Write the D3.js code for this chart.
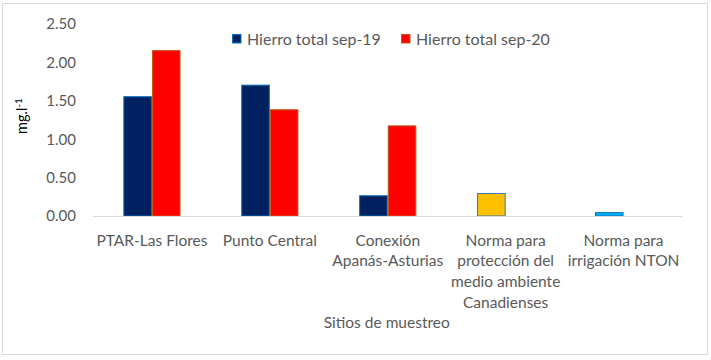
<!DOCTYPE html>
<html>
<head>
<meta charset="utf-8">
<script src="https://cdn.jsdelivr.net/npm/d3@7"></script>
<style>
  html, body { margin: 0; padding: 0; background: #fff; }
  text { font-family: Lato, "Liberation Sans", sans-serif; }
</style>
</head>
<body>
<div id="chart"></div>
<script>
// data
const categories = ['PTAR-Las Flores', 'Punto Central', 'Conexión Apanás-Asturias',
  'Norma para protección del medio ambiente Canadienses', 'Norma para irrigación NTON'];
const categoryLines = [
  ['PTAR-Las Flores'],
  ['Punto Central'],
  ['Conexión', 'Apanás-Asturias'],
  ['Norma para', 'protección del', 'medio ambiente', 'Canadienses'],
  ['Norma para', 'irrigación NTON']
];
const seriesNames = ['Hierro total sep-19', 'Hierro total sep-20'];
const sep19 = [1.56, 1.71, 0.27, 0.30, 0.05];
const sep20 = [2.16, 1.39, 1.18, null, null];
const yTicks = [0, 0.5, 1, 1.5, 2, 2.5];

// colours (first series has per-point colours for the two "Norma" bars)
const fill19 = ['#002060', '#002060', '#002060', '#FFC000', '#00B0F0'];
const stroke19 = ['#0070C0', '#0070C0', '#0070C0', '#2E75B6', '#0070C0'];
const fill20 = '#FF0000', stroke20 = '#C55A11';

const W = 711, H = 360;
const svg = d3.select('#chart').append('svg')
  .attr('width', W).attr('height', H);

// chart border
svg.append('rect')
  .attr('x', 2.5).attr('y', 3.5)
  .attr('width', 705).attr('height', 351)
  .attr('fill', '#fff').attr('stroke', '#d9d9d9');

const plot = { left: 93, right: 682.5, top: 24, bottom: 216 };

const x0 = d3.scaleBand()
  .domain(categories)
  .range([plot.left, plot.right])
  .paddingInner(0.515)
  .paddingOuter(0.2575);

const x1 = d3.scaleBand()
  .domain(seriesNames)
  .range([0, x0.bandwidth()]);

const y = d3.scaleLinear()
  .domain([0, 2.5])
  .range([plot.bottom, plot.top]);

// Y axis labels only
const yAxis = svg.append('g')
  .attr('transform', `translate(${plot.left - 17},0)`)
  .call(d3.axisLeft(y).tickValues(yTicks).tickFormat(d3.format('.2f')).tickSize(0).tickPadding(0));
yAxis.select('.domain').remove();
yAxis.selectAll('text')
  .attr('fill', '#595959')
  .style('font-size', '15px')
  .style('font-family', 'Lato, sans-serif');

// Y title
const yt = svg.append('text')
  .attr('transform', 'translate(27,116) rotate(-90)')
  .attr('text-anchor', 'middle')
  .attr('fill', '#000')
  .style('font-size', '14.5px');
yt.append('tspan').text('mg.l');
yt.append('tspan').attr('dy', -5).style('font-size', '10px').text('-1');

// bars
const rows = categories.map((c, i) => ({ cat: c, i, v19: sep19[i], v20: sep20[i] }));

svg.append('g').selectAll('rect')
  .data(rows.filter(d => d.v19 != null))
  .join('rect')
  .attr('x', d => x0(d.cat) + x1(seriesNames[0]) + 0.5)
  .attr('y', d => y(d.v19) + 0.5)
  .attr('width', x1.bandwidth() - 1)
  .attr('height', d => y(0) - y(d.v19) - 0.5)
  .attr('fill', d => fill19[d.i])
  .attr('stroke', d => stroke19[d.i])
  .attr('stroke-width', 1);

svg.append('g').selectAll('rect')
  .data(rows.filter(d => d.v20 != null))
  .join('rect')
  .attr('x', d => x0(d.cat) + x1(seriesNames[1]) + 0.5)
  .attr('y', d => y(d.v20) + 0.5)
  .attr('width', x1.bandwidth() - 1)
  .attr('height', d => y(0) - y(d.v20) - 0.5)
  .attr('fill', fill20)
  .attr('stroke', stroke20)
  .attr('stroke-width', 1);

// baseline
svg.append('line')
  .attr('x1', plot.left).attr('x2', plot.right)
  .attr('y1', y(0) + 0.5).attr('y2', y(0) + 0.5)
  .attr('stroke', '#d9d9d9').attr('stroke-width', 1);

// category labels
const xl = svg.append('g');
categories.forEach((c, i) => {
  const t = xl.append('text')
    .attr('text-anchor', 'middle')
    .attr('fill', '#595959')
    .style('font-size', '15.5px');
  categoryLines[i].forEach((line, j) => {
    t.append('tspan')
      .attr('x', x0(c) + x0.bandwidth() / 2)
      .attr('y', 245.5 + j * 20.7)
      .text(line);
  });
});

// X title
svg.append('text')
  .attr('x', (plot.left + plot.right) / 2 - 1)
  .attr('y', 327.5)
  .attr('text-anchor', 'middle')
  .attr('fill', '#595959')
  .style('font-size', '15.5px')
  .text('Sitios de muestreo');

// legend
const legendX = [232, 401];
const legendFill = ['#002060', fill20];
const legendStroke = ['#0070C0', stroke20];
seriesNames.forEach((name, i) => {
  svg.append('rect')
    .attr('x', legendX[i] + 0.5).attr('y', 34.5)
    .attr('width', 8.5).attr('height', 8.5)
    .attr('fill', legendFill[i]).attr('stroke', legendStroke[i]);
  svg.append('text')
    .attr('x', legendX[i] + 15).attr('y', 45)
    .attr('fill', '#595959')
    .style('font-size', '16px')
    .text(name);
});
</script>
</body>
</html>
